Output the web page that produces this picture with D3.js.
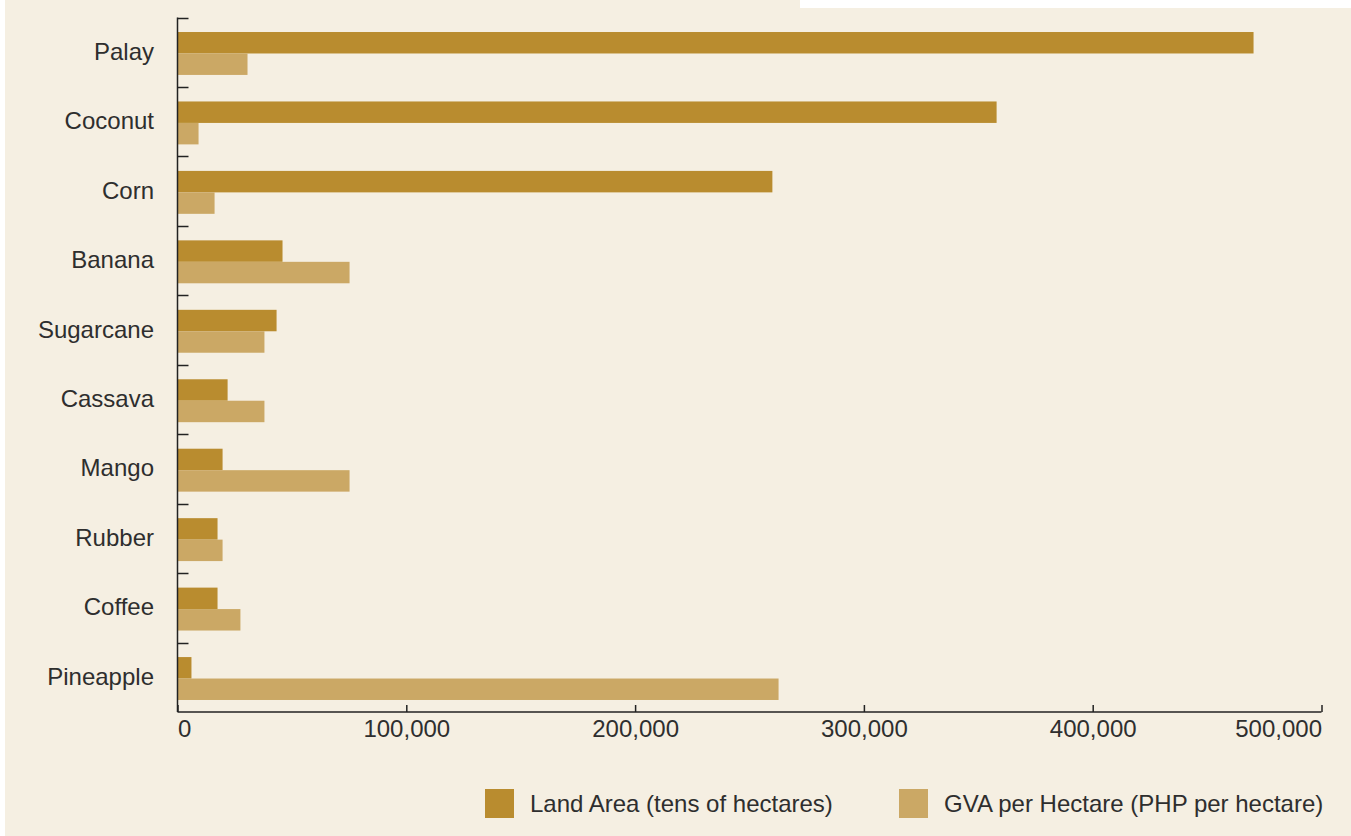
<!DOCTYPE html>
<html><head><meta charset="utf-8">
<script src="https://cdn.jsdelivr.net/npm/d3@7"></script>
<style>html,body{margin:0;padding:0;background:#fff;}svg{display:block;}</style>
</head><body>
<svg id="chart" width="1351" height="836"></svg>
<script>
const categories = ["Palay","Coconut","Corn","Banana","Sugarcane","Cassava","Mango","Rubber","Coffee","Pineapple"];
const landArea = [470300, 358000, 260000, 45900, 43300, 21900, 19700, 17500, 17500, 6100];
const gvaPerHectare = [30600, 9200, 16200, 75200, 38000, 38000, 75200, 19700, 27500, 262700];
const seriesNames = ["Land Area (tens of hectares)", "GVA per Hectare (PHP per hectare)"];
const seriesColors = ["#b98c2f", "#cba865"];
const xTicks = [0, 100000, 200000, 300000, 400000, 500000];

(function(){
const svg = d3.select("#chart");
const font = "'Liberation Sans', Arial, sans-serif";
const textColor = "#2e2e2e";

svg.append("rect").attr("x",5).attr("y",0).attr("width",1346).attr("height",836).attr("fill","#f5efe2");
svg.append("rect").attr("x",800).attr("y",0).attr("width",551).attr("height",8).attr("fill","#ffffff");

const mLeft = 177.5, mRight = 1321.5, mTop = 17.5, mBottom = 712;
const x = d3.scaleLinear().domain([0, 500000]).range([mLeft, mRight]);
const y = d3.scaleBand().domain(categories).range([mTop, mBottom]).padding(0);
const bw = y.bandwidth();
const sub = d3.scaleBand().domain([0,1]).range([bw*0.209, bw*0.209 + bw*0.618]).padding(0);

const data = [landArea, gvaPerHectare];
data.forEach((vals, si) => {
  svg.append("g").selectAll("rect").data(categories).join("rect")
    .attr("x", x(0) - 0.5)
    .attr("y", d => y(d) + sub(si))
    .attr("width", (d,i) => x(vals[i]) - x(0) + 0.5)
    .attr("height", sub.bandwidth())
    .attr("fill", seriesColors[si]);
});

// y axis
const yAxisG = svg.append("g").attr("transform", `translate(${mLeft},0)`);
yAxisG.append("line").attr("x1",0).attr("x2",0).attr("y1",mTop).attr("y2",mBottom).attr("stroke","#222").attr("stroke-width",1.5);
yAxisG.selectAll("line.tick").data(categories).join("line").attr("class","tick")
  .attr("x1",0).attr("x2",11).attr("y1",d=>Math.round(y(d))+0.5).attr("y2",d=>Math.round(y(d))+0.5)
  .attr("stroke","#222").attr("stroke-width",1.5);
svg.append("g").selectAll("text").data(categories).join("text")
  .attr("x",154).attr("y",d=>y(d)+bw/2 - 1).attr("text-anchor","end").attr("dominant-baseline","central")
  .attr("font-family",font).attr("font-size",24).attr("fill",textColor).text(d=>d);

// x axis
const xAxis = d3.axisBottom(x).tickValues(xTicks).tickSize(-7).tickSizeOuter(0).tickFormat(d3.format(","));
const xg = svg.append("g").attr("transform",`translate(0,${mBottom})`).call(xAxis);
xg.select(".domain").attr("stroke","#222").attr("stroke-width",1.5).attr("d",`M${mLeft},0H${mRight}`);
xg.selectAll(".tick line").attr("stroke","#222").attr("stroke-width",1.5);
xg.selectAll(".tick text").attr("font-family",font).attr("font-size",24).attr("fill",textColor).attr("dy",null).attr("y",25)
  .attr("text-anchor",(d,i)=> i===0 ? "start" : (i===xTicks.length-1 ? "end" : "middle"));

// legend
const legendX = [485, 899];
seriesNames.forEach((n,i)=>{
  svg.append("rect").attr("x",legendX[i]).attr("y",789).attr("width",29).attr("height",29).attr("fill",seriesColors[i]);
  svg.append("text").attr("x",legendX[i]+45).attr("y",812).attr("font-family",font).attr("font-size",24).attr("fill",textColor).text(n);
});
})();
</script>
</body></html>
